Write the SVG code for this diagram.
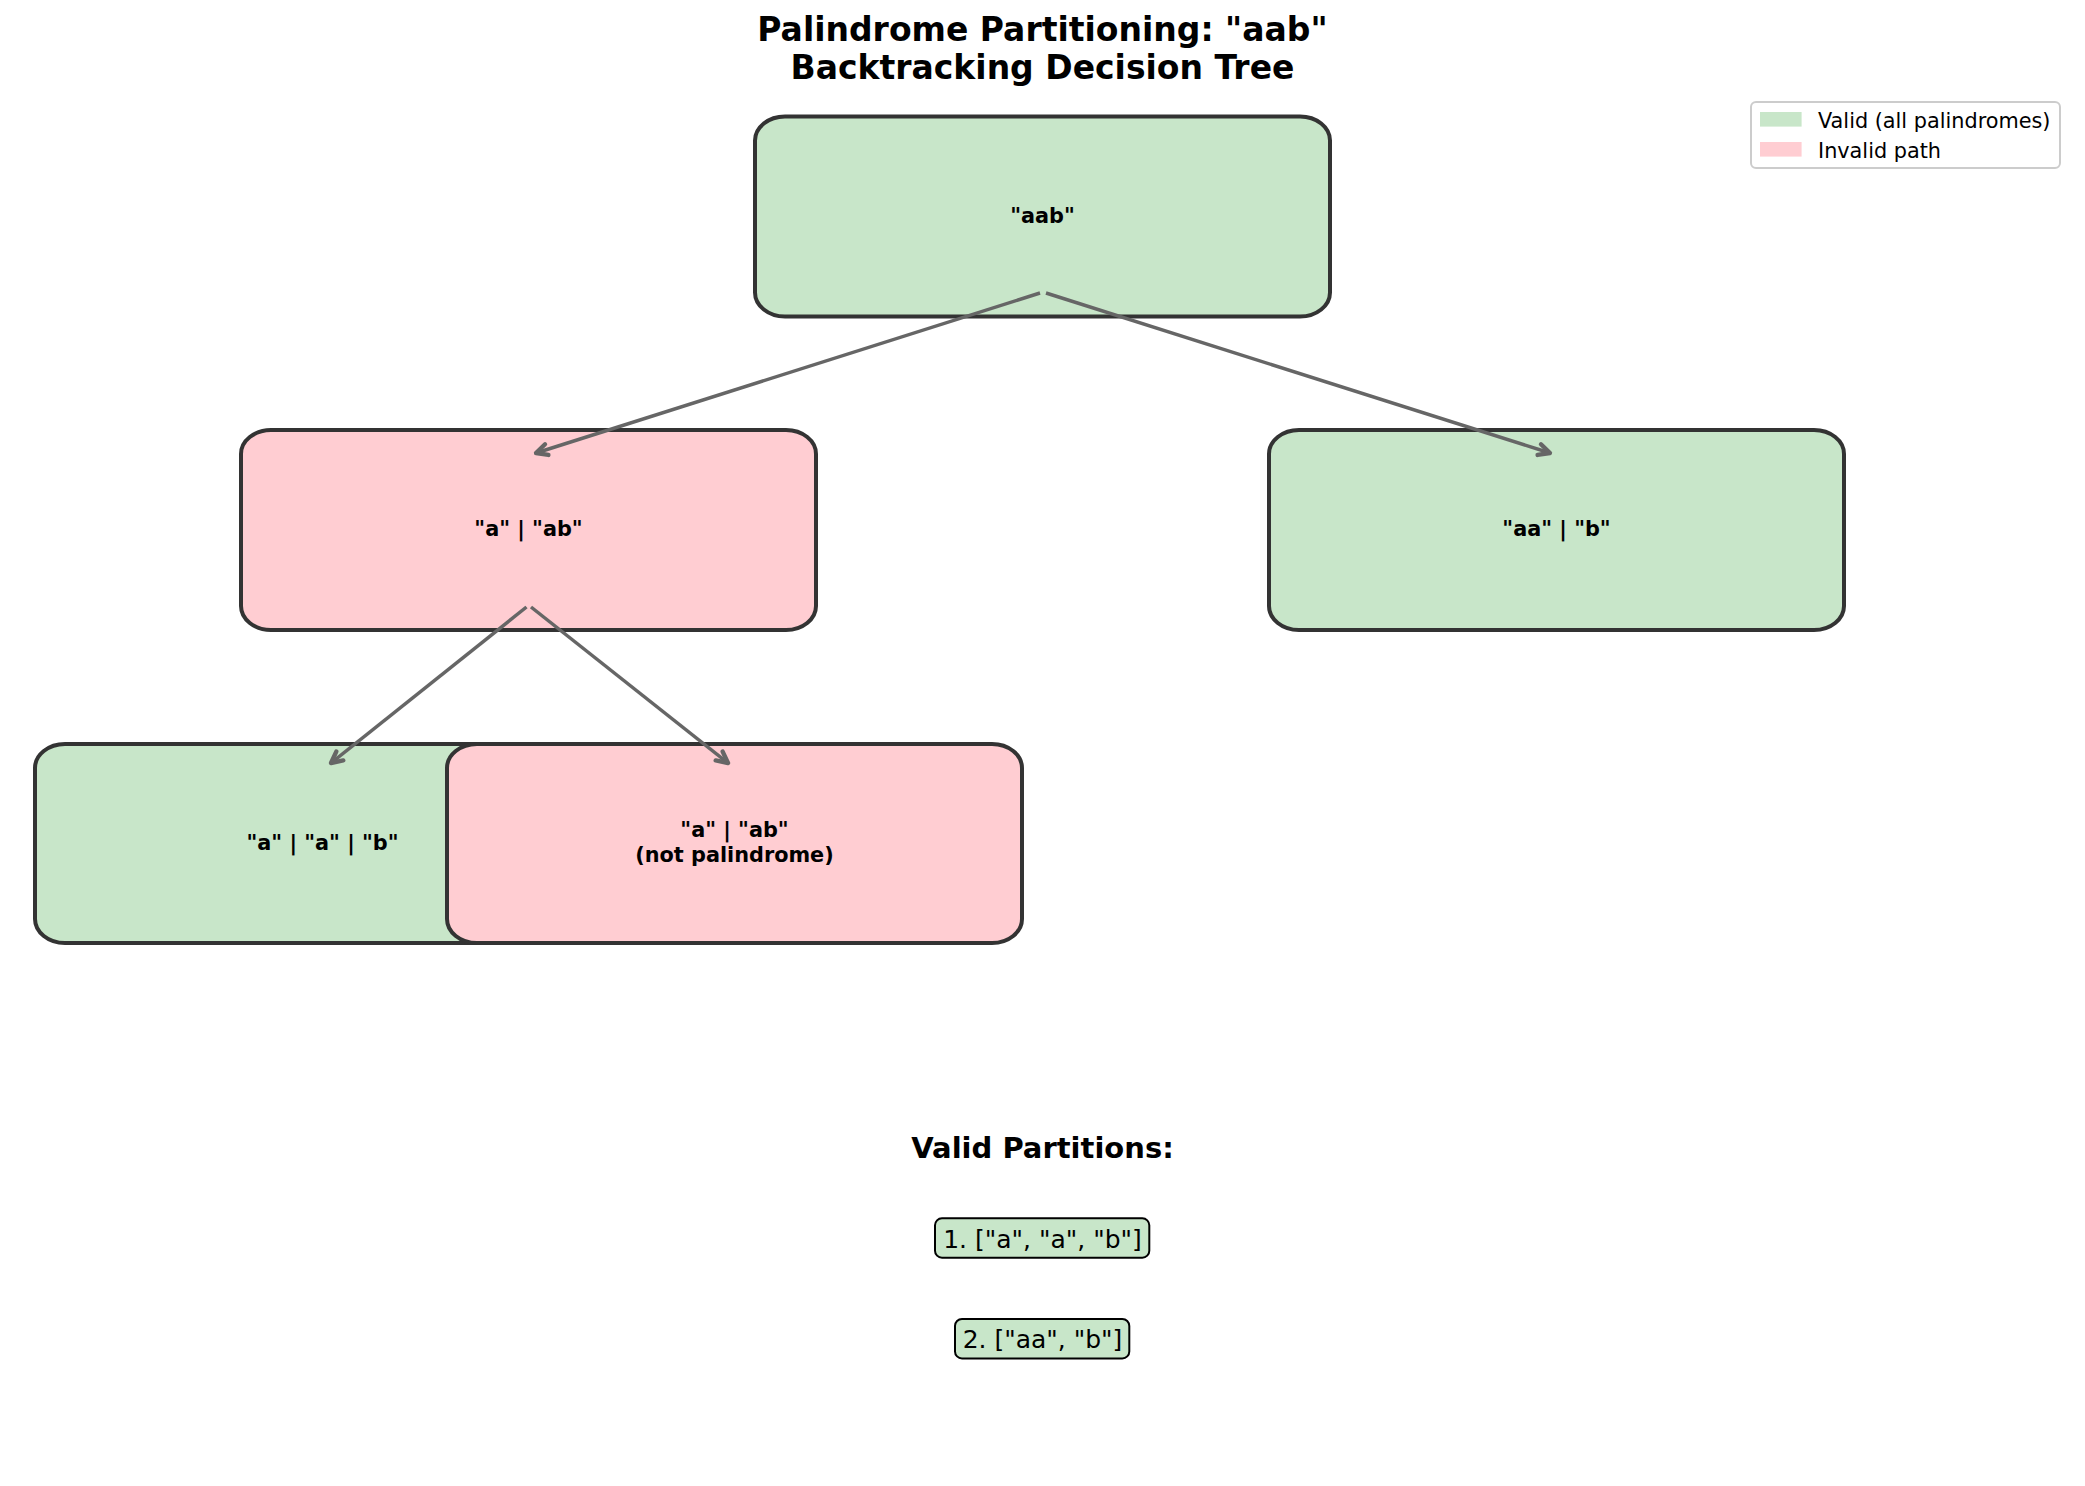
<svg xmlns="http://www.w3.org/2000/svg" width="2085" height="1486" viewBox="0 0 2085 1486">
<style>
text { font-family: "DejaVu Sans", "Liberation Sans", sans-serif; fill: #000; }
.title { font-size: 33px; font-weight: bold; text-anchor: middle; }
.node { stroke: #333333; stroke-width: 4; }
.valid { fill: #c8e6c9; }
.invalid { fill: #ffcdd2; }
.ntext { font-size: 20.8px; font-weight: bold; text-anchor: middle; }
.edge { stroke: #666666; stroke-width: 3.5; fill: none; marker-end: url(#arrow); }
.leg { font-size: 20.8px; }
.part { fill: #c8e6c9; stroke: #000; stroke-width: 2; }
.ptext { font-size: 25px; text-anchor: middle; }
</style>
<defs>
<marker id="arrow" markerUnits="userSpaceOnUse" markerWidth="20" markerHeight="20" refX="0" refY="0" viewBox="-14 -8 16 16" orient="auto">
<path d="M -9 -4.5 L 0 0 L -9 4.5" fill="none" stroke="#666666" stroke-width="3.5" stroke-linecap="round" stroke-linejoin="round"/>
</marker>
</defs>
<rect width="2085" height="1486" fill="#ffffff"/>
<text class="title" x="1042.5" y="41">Palindrome Partitioning: "aab"</text>
<text class="title" x="1042.5" y="79">Backtracking Decision Tree</text>

<g id="node-root">
<rect class="node valid" x="755" y="116.5" width="575" height="200" rx="30" ry="24"/>
<text class="ntext" x="1042.5" y="223">"aab"</text>
</g>
<g id="node-a-ab">
<rect class="node invalid" x="241" y="430" width="575" height="200" rx="30" ry="24"/>
<text class="ntext" x="528.5" y="536">"a" | "ab"</text>
</g>
<g id="node-aa-b">
<rect class="node valid" x="1269" y="430" width="575" height="200" rx="30" ry="24"/>
<text class="ntext" x="1556.5" y="536">"aa" | "b"</text>
</g>
<g id="node-a-a-b">
<rect class="node valid" x="35" y="744" width="575" height="199" rx="30" ry="24"/>
<text class="ntext" x="322.5" y="850">"a" | "a" | "b"</text>
</g>
<g id="node-a-ab-invalid">
<rect class="node invalid" x="447" y="744" width="575" height="199" rx="30" ry="24"/>
<text class="ntext" x="734.5" y="837">"a" | "ab"</text>
<text class="ntext" x="734.5" y="862">(not palindrome)</text>
</g>

<g id="connectors">
<line class="edge" x1="1040" y1="293" x2="536" y2="453"/>
<line class="edge" x1="1046" y1="293" x2="1550" y2="453"/>
<line class="edge" x1="526.5" y1="607" x2="331" y2="763"/>
<line class="edge" x1="531" y1="607" x2="728" y2="763"/>
</g>

<g id="legend">
<rect x="1751" y="102" width="309" height="66" rx="5" fill="#ffffff" fill-opacity="0.8" stroke="#cccccc" stroke-width="2"/>
<rect x="1760" y="112" width="41.6" height="14.6" fill="#c8e6c9"/>
<text class="leg" x="1818" y="127.5">Valid (all palindromes)</text>
<rect x="1760" y="142" width="41.6" height="14.6" fill="#ffcdd2"/>
<text class="leg" x="1818" y="157.5">Invalid path</text>
</g>

<g id="valid-partitions">
<text x="1042.5" y="1158" font-size="29px" font-weight="bold" text-anchor="middle">Valid Partitions:</text>
<rect class="part" x="935" y="1218.3" width="214.3" height="39.4" rx="7"/>
<text class="ptext" x="1042.5" y="1247.5">1. ["a", "a", "b"]</text>
<rect class="part" x="955" y="1319" width="174.3" height="39.4" rx="7"/>
<text class="ptext" x="1042.5" y="1348">2. ["aa", "b"]</text>
</g>
</svg>
